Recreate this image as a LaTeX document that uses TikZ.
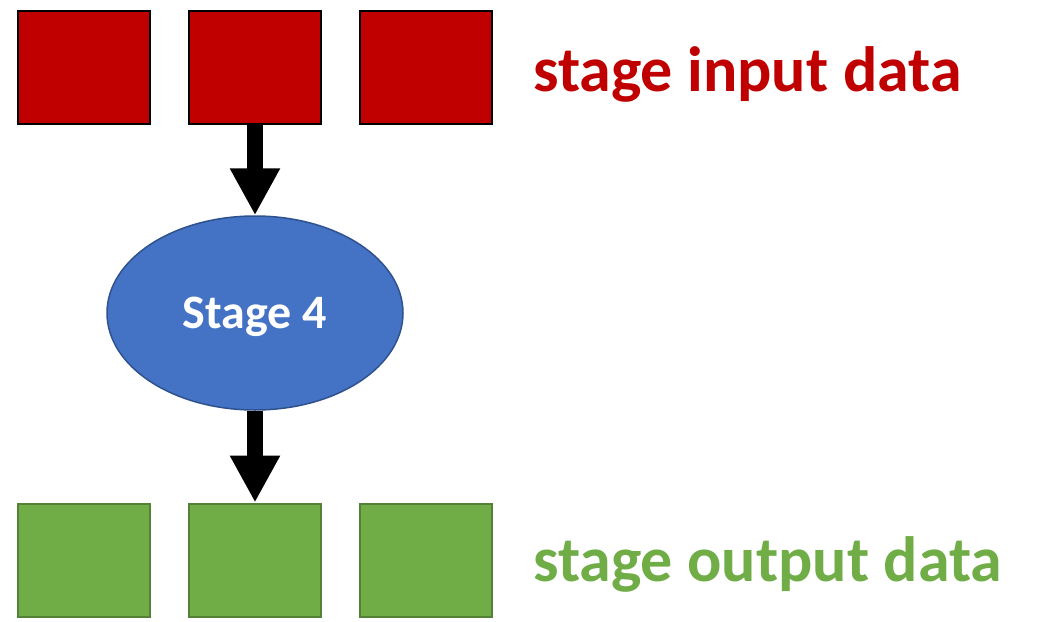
\documentclass[tikz,border=0pt]{standalone}
\usepackage{fontspec}
\setmainfont{Carlito}
\usepackage{tikz}
\usetikzlibrary{arrows.meta}
\usetikzlibrary{shapes.geometric}
\definecolor{inred}{HTML}{C00000}
\definecolor{outgreen}{HTML}{70AD47}
\definecolor{outgreenline}{HTML}{538135}
\definecolor{stageblue}{HTML}{4472C4}
\definecolor{stageline}{HTML}{2F528F}
\tikzset{
	% Data blocks above and below the stage
	input block/.style={rectangle,draw=black,line width=2pt,fill=inred,minimum width=132pt,minimum height=113pt,inner sep=0},
	output block/.style={rectangle,draw=outgreenline,line width=2pt,fill=outgreen,minimum width=132pt,minimum height=113pt,inner sep=0},
	% The stage itself
	stage node/.style={ellipse,draw=stageline,line width=1.5pt,fill=stageblue,minimum width=296pt,minimum height=194pt,inner sep=0,text depth=0pt,text=white,font=\bfseries\fontsize{48}{50}\selectfont},
	flow arrow/.style={line width=16pt,-{Triangle[width=47pt,length=47pt]}}
}

\begin{document}
\begin{tikzpicture}[x=1pt,y=-1pt]
	\useasboundingbox (0,0) rectangle (1038,621);
	
	% Input row
	\node(in-1)[input block] at (84,67.5){};
	\node(in-2)[input block] at (255,67.5){};
	\node(in-3)[input block] at (426,67.5){};
	\node(in-label)[anchor=base west,inner sep=0,text=inred,font=\bfseries\fontsize{64}{66}\selectfont] at (533,91){stage input data};
	
	% Stage
	\node(stage)[stage node] at (255,313){Stage 4};
	
	% Output row
	\node(out-1)[output block] at (84,560){};
	\node(out-2)[output block] at (255,560){};
	\node(out-3)[output block] at (426,560){};
	\node(out-label)[anchor=base west,inner sep=0,text=outgreen,font=\bfseries\fontsize{64}{66}\selectfont] at (533,581){stage output data};
	
	\draw[flow arrow] (in-2.south) -- (stage.north);
	\draw[flow arrow] (stage.south) -- (out-2.north);
\end{tikzpicture}
\end{document}
